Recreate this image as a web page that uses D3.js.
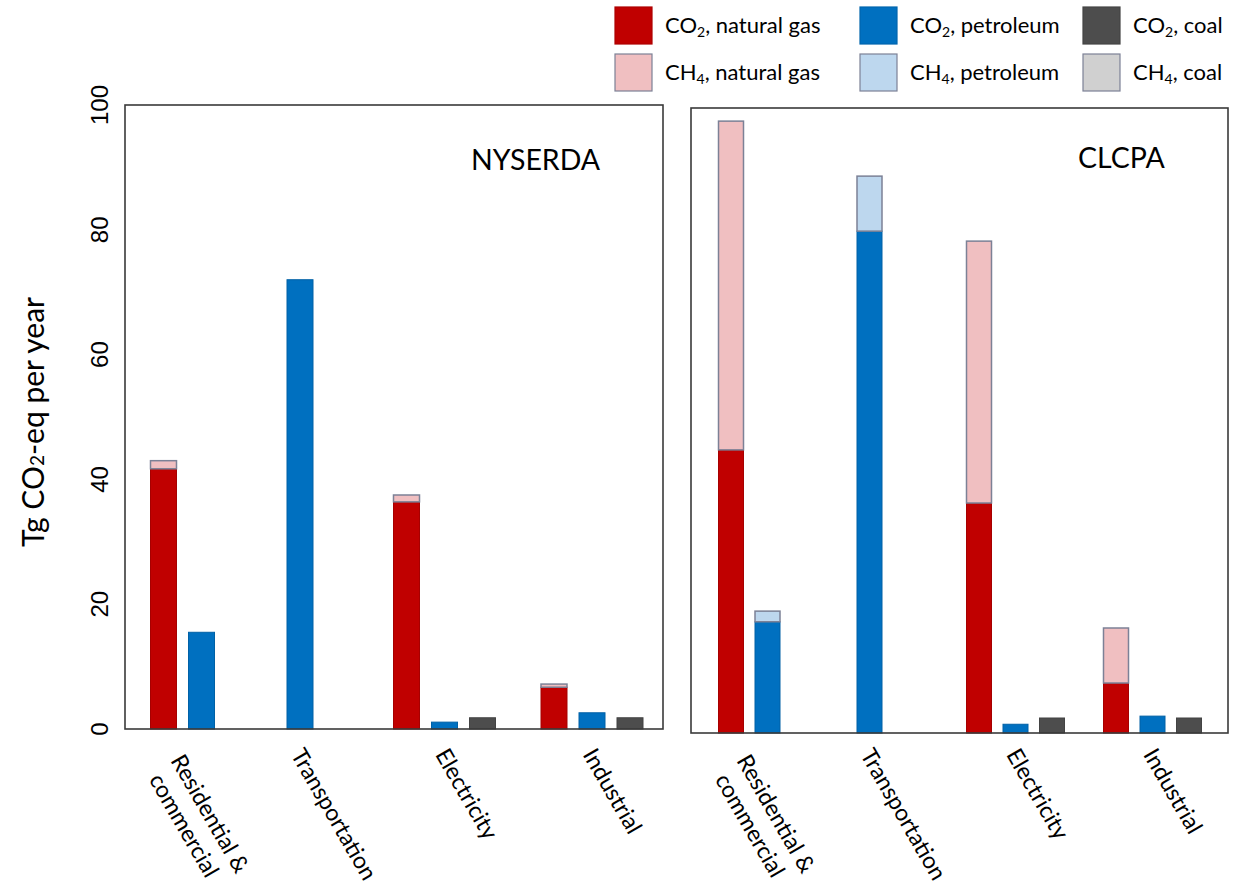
<!DOCTYPE html>
<html><head><meta charset="utf-8">
<script src="https://cdn.jsdelivr.net/npm/d3@7"></script>
<style>body{margin:0;background:#fff}svg{display:block}</style>
</head><body><svg id="c" width="1233" height="893"></svg>
<script>
// ---------- data ----------
const categories = ["Residential & commercial", "Transportation", "Electricity", "Industrial"];
const categoryLines = [["Residential &", "commercial"], ["Transportation"], ["Electricity"], ["Industrial"]];
const fuels = ["natural gas", "petroleum", "coal"];
const panels = ["NYSERDA", "CLCPA"];
const yTicks = [0, 20, 40, 60, 80, 100];

// NYSERDA (Tg CO2-eq per year)
const nyserdaCO2Gas  = [41.7, 0, 36.4, 6.7];
const nyserdaCH4Gas  = [1.3, 0, 1.1, 0.5];
const nyserdaCO2Pet  = [15.5, 72.0, 1.1, 2.6];
const nyserdaCH4Pet  = [0, 0, 0, 0];
const nyserdaCO2Coal = [0, 0, 1.8, 1.8];
const nyserdaCH4Coal = [0, 0, 0, 0];

// CLCPA (Tg CO2-eq per year)
const clcpaCO2Gas  = [45.3, 0, 36.8, 8.0];
const clcpaCH4Gas  = [52.6, 0, 41.9, 8.8];
const clcpaCO2Pet  = [17.8, 80.3, 1.4, 2.7];
const clcpaCH4Pet  = [1.7, 8.8, 0, 0];
const clcpaCO2Coal = [0, 0, 2.4, 2.4];
const clcpaCH4Coal = [0, 0, 0, 0];

// ---------- styles / layout ----------
const colors = {
  "CO2 natural gas": "#c00000", "CH4 natural gas": "#f0bfc1",
  "CO2 petroleum": "#0070c0",   "CH4 petroleum": "#bdd7ee",
  "CO2 coal": "#4d4d4d",        "CH4 coal": "#d0d0d0"
};
const outline = "#7c8196";
const sansC = "Lato, 'Open Sans', sans-serif";
const sansA = "'Liberation Sans', Arial, sans-serif";

const layout = {
  NYSERDA: {x0: 125, x1: 663, y0: 105, y1: 729, centers: [201.5, 300, 444.5, 592], step: 38, bw: 26,
            title: [471, 170]},
  CLCPA:   {x0: 691, x1: 1228, y0: 108, y1: 733, centers: [767.5, 869.5, 1015.5, 1152.5], step: 36.5, bw: 25,
            title: [1078, 168]}
};

const panelData = {
  NYSERDA: {CO2: [nyserdaCO2Gas, nyserdaCO2Pet, nyserdaCO2Coal], CH4: [nyserdaCH4Gas, nyserdaCH4Pet, nyserdaCH4Coal]},
  CLCPA:   {CO2: [clcpaCO2Gas, clcpaCO2Pet, clcpaCO2Coal],       CH4: [clcpaCH4Gas, clcpaCH4Pet, clcpaCH4Coal]}
};

const svg = d3.select("#c");

panels.forEach(p => {
  const L = layout[p];
  const y = d3.scaleLinear().domain([0, 100]).range([L.y1, L.y0]);
  const xc = d3.scaleOrdinal().domain(categories).range(L.centers);
  const off = d3.scaleOrdinal().domain(fuels).range([-L.step, 0, L.step]);
  const g = svg.append("g");

  const rows = [];
  categories.forEach((c, ci) => fuels.forEach((f, fi) => {
    rows.push({cat: c, fuel: f, CO2: panelData[p].CO2[fi][ci], CH4: panelData[p].CH4[fi][ci]});
  }));
  const stack = d3.stack().keys(["CO2", "CH4"])(rows);
  stack.forEach(layer => {
    layer.forEach(seg => {
      const d = seg.data;
      if (seg[1] - seg[0] <= 0) return;
      const key = layer.key + " " + d.fuel;
      g.append("rect")
        .attr("x", xc(d.cat) + off(d.fuel) - L.bw / 2)
        .attr("width", L.bw)
        .attr("y", y(seg[1]))
        .attr("height", y(seg[0]) - y(seg[1]))
        .attr("fill", colors[key])
        .attr("stroke", layer.key === "CH4" ? outline : d3.color(colors[key]).darker(0.4))
        .attr("stroke-width", layer.key === "CH4" ? 1.5 : 1);
    });
  });

  g.append("rect").attr("x", L.x0).attr("y", L.y0).attr("width", L.x1 - L.x0).attr("height", L.y1 - L.y0)
    .attr("fill", "none").attr("stroke", "#3a3a3a").attr("stroke-width", 1.6);

  g.append("text").attr("x", L.title[0]).attr("y", L.title[1]).text(p)
    .attr("font-family", sansC).attr("font-size", 28.5).attr("fill", "#000");

  const ang = 60, rad = ang * Math.PI / 180, lh = 25;
  categories.forEach((c, ci) => {
    const lines = categoryLines[ci];
    const n = lines.length;
    lines.forEach((t, li) => {
      const shift = n > 1 ? -(li + 1) : 0;
      const px = xc(c) - 2 + shift * lh * Math.sin(rad);
      const py = (n > 1 ? 756 + li * 19 : 750);
      svg.append("text")
        .attr("transform", `translate(${px},${py}) rotate(${ang})`)
        .attr("font-family", sansC).attr("font-size", 23).attr("fill", "#000")
        .attr("dominant-baseline", "central")
        .text(t);
    });
  });

  if (p === "NYSERDA") {
    yTicks.forEach(v => {
      svg.append("text")
        .attr("transform", `translate(99,${y(v)}) rotate(-90)`)
        .attr("text-anchor", "middle").attr("dominant-baseline", "central")
        .attr("font-family", sansA).attr("font-size", 24).attr("fill", "#000")
        .text(d3.format("d")(v));
    });
  }
});

// y-axis title
const yt = svg.append("text")
  .attr("transform", "translate(32,422) rotate(-90)")
  .attr("text-anchor", "middle").attr("dominant-baseline", "central")
  .attr("font-family", sansC).attr("font-size", 30).attr("fill", "#000");
yt.append("tspan").text("Tg CO");
yt.append("tspan").text("2").attr("font-size", 19).attr("baseline-shift", "-25%");
yt.append("tspan").text("-eq per year");

// legend
const legendCols = [615, 860, 1083];
const legendRows = [7, 54];
const gases = ["CO2", "CH4"];
fuels.forEach((f, fi) => {
  gases.forEach((gsym, gi) => {
    const key = gsym + " " + f;
    const x = legendCols[fi], yy = legendRows[gi];
    svg.append("rect").attr("x", x).attr("y", yy).attr("width", 37).attr("height", 37)
      .attr("fill", colors[key])
      .attr("stroke", gi === 1 ? outline : d3.color(colors[key]).darker(0.3)).attr("stroke-width", 1.2);
    const t = svg.append("text").attr("x", x + 50).attr("y", yy + 26)
      .attr("font-family", sansC).attr("font-size", 22).attr("fill", "#000");
    t.append("tspan").text(gsym.slice(0, 2));
    t.append("tspan").text(gsym.slice(2)).attr("font-size", 14).attr("baseline-shift", "-25%");
    t.append("tspan").text(", " + f);
  });
});
</script></body></html>
